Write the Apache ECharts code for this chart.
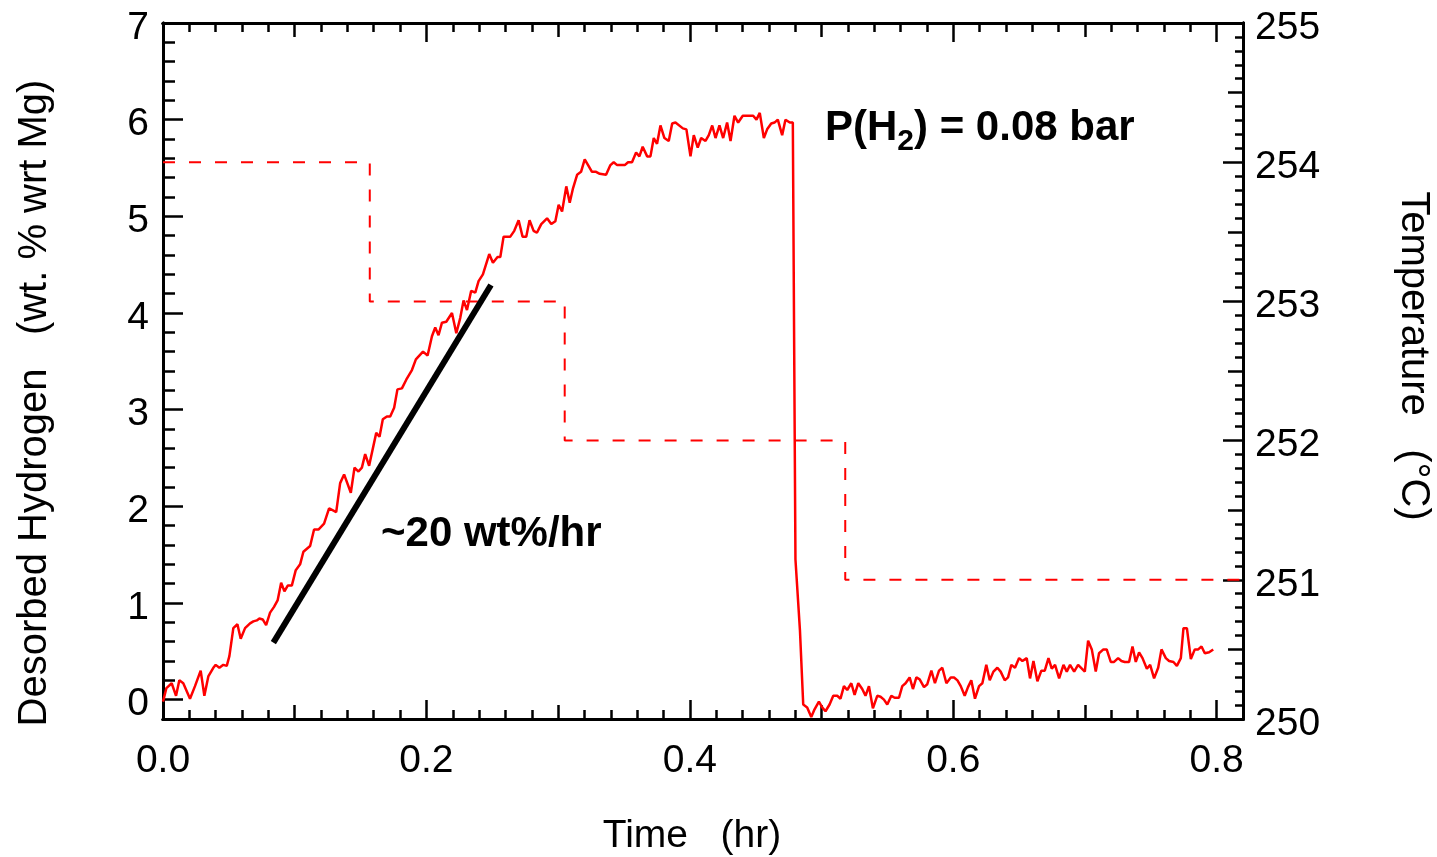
<!DOCTYPE html>
<html><head><meta charset="utf-8">
<script src="https://cdn.jsdelivr.net/npm/echarts@6/dist/echarts.min.js"></script>
<style>html,body{margin:0;padding:0;background:#fff}#c{width:1437px;height:857px}</style>
</head><body><div id="c"></div>
<script>
// ---- data ----
const timeHr = [
0.000,0.0026,0.0066,0.0099,0.0124,0.0154,0.0205,0.0243,0.0286,0.0314,0.0344,0.0382,0.0400,0.0428,0.0458,0.0484,0.0504,0.0534,0.0565,0.0590,
0.0623,0.0661,0.0686,0.0712,0.0732,0.0757,0.0783,0.0813,0.0843,0.0871,0.0897,0.0922,0.0947,0.0978,0.1008,0.1041,0.1066,0.1117,0.1147,0.1180,
0.1223,0.1261,0.1315,0.1345,0.1375,0.1426,0.1454,0.1484,0.1510,0.1535,0.1565,0.1619,0.1644,0.1669,0.1700,0.1725,0.1755,0.1780,0.1814,0.1847,
0.1890,0.1920,0.1974,0.2009,0.2042,0.2067,0.2092,0.2118,0.2151,0.2194,0.2227,0.2257,0.2282,0.2308,0.2340,0.2371,0.2396,0.2429,0.2477,0.2505,
0.2540,0.2561,0.2586,0.2637,0.2667,0.2700,0.2730,0.2758,0.2783,0.2814,0.2839,0.2872,0.2916,0.2948,0.2979,0.3004,0.3030,0.3062,0.3088,0.3113,
0.3144,0.3174,0.3202,0.3232,0.3257,0.3288,0.3316,0.3364,0.3397,0.3422,0.3448,0.3506,0.3531,0.3561,0.3592,0.3617,0.3642,0.3676,0.3701,0.3726,
0.3751,0.3777,0.3807,0.3840,0.3866,0.3891,0.3947,0.3974,0.4005,0.4030,0.4060,0.4086,0.4119,0.4144,0.4170,0.4195,0.4225,0.4253,0.4283,0.4309,
0.4339,0.4367,0.4402,0.4481,0.4506,0.4531,0.4562,0.4587,0.4618,0.4643,0.4668,0.4701,0.4726,0.4759,0.4782,0.4802,0.4836,0.4861,0.4891,0.4922,
0.4947,0.4980,0.5005,0.5030,0.5061,0.5089,0.5119,0.5144,0.5170,0.5195,0.5226,0.5251,0.5279,0.5309,0.5334,0.5360,0.5390,0.5423,0.5448,0.5474,
0.5499,0.5530,0.5555,0.5588,0.5613,0.5638,0.5669,0.5694,0.5720,0.5745,0.5778,0.5803,0.5834,0.5861,0.5892,0.5917,0.5948,0.5981,0.6006,0.6032,
0.6057,0.6087,0.6112,0.6137,0.6165,0.6196,0.6221,0.6251,0.6277,0.6305,0.6335,0.6360,0.6391,0.6416,0.6441,0.6469,0.6500,0.6525,0.6558,0.6583,
0.6609,0.6639,0.6669,0.6695,0.6723,0.6748,0.6773,0.6804,0.6837,0.6862,0.6887,0.6918,0.6948,0.6999,0.7024,0.7052,0.7082,0.7107,0.7140,0.7165,
0.7196,0.7221,0.7252,0.7277,0.7302,0.7335,0.7361,0.7386,0.7411,0.7437,0.7470,0.7495,0.7525,0.7556,0.7581,0.7614,0.7639,0.7672,0.7698,0.7728,
0.7748,0.7774,0.7804,0.7834,0.7860,0.7885,0.7910,0.7943,0.7974
];
const hydrogen = [
-0.02,0.12,0.17,0.04,0.20,0.17,0.01,0.14,0.30,0.04,0.24,0.33,0.36,0.33,0.36,0.35,0.45,0.74,0.78,0.63,
0.74,0.79,0.81,0.82,0.84,0.83,0.77,0.90,0.96,1.03,1.21,1.12,1.18,1.18,1.34,1.40,1.53,1.59,1.76,1.76,
1.82,1.98,1.94,2.24,2.33,2.14,2.40,2.36,2.40,2.54,2.42,2.76,2.72,2.90,2.93,2.93,3.02,3.21,3.22,3.31,
3.41,3.52,3.60,3.56,3.76,3.85,3.77,3.90,3.91,4.00,3.79,3.95,4.13,4.03,4.23,4.21,4.33,4.40,4.61,4.52,
4.58,4.58,4.79,4.79,4.85,4.96,4.79,4.79,4.96,4.85,4.83,4.92,4.98,4.92,4.95,5.12,5.05,5.31,5.14,5.29,
5.43,5.46,5.59,5.52,5.46,5.46,5.44,5.43,5.53,5.56,5.53,5.53,5.56,5.56,5.66,5.62,5.72,5.62,5.62,5.81,
5.75,5.94,5.81,5.78,5.96,5.97,5.91,5.90,5.62,5.84,5.71,5.81,5.78,5.84,5.94,5.81,5.94,5.81,5.97,5.78,
6.04,5.97,6.04,6.04,6.00,6.07,5.81,5.90,5.96,5.97,6.00,5.84,6.00,5.97,5.97,1.45,0.72,-0.05,-0.08,-0.18,
-0.10,-0.02,-0.08,-0.12,-0.05,0.04,0.04,0.01,0.14,0.10,0.17,0.05,0.17,0.11,0.04,0.14,-0.09,0.04,0.03,0.00,
-0.05,0.04,0.02,0.02,0.14,0.17,0.23,0.11,0.23,0.21,0.13,0.16,0.30,0.17,0.30,0.33,0.17,0.23,0.23,0.20,
0.14,0.04,0.13,0.20,0.01,0.14,0.17,0.36,0.20,0.29,0.33,0.29,0.20,0.23,0.36,0.33,0.43,0.40,0.43,0.22,
0.40,0.19,0.30,0.30,0.43,0.32,0.36,0.22,0.36,0.29,0.36,0.29,0.36,0.29,0.61,0.52,0.29,0.48,0.52,0.52,
0.39,0.39,0.43,0.40,0.39,0.39,0.55,0.39,0.49,0.43,0.32,0.36,0.22,0.33,0.52,0.43,0.40,0.39,0.35,0.43,
0.74,0.74,0.42,0.52,0.52,0.55,0.48,0.49,0.52
];
const tempTimes = [0, 0.157, 0.305, 0.518, 0.82];
const tempLevels = [254, 253, 252, 251, 251];
const fitTimes = [0.0838, 0.249];
const fitValues = [0.59, 4.29];
const xTickLabels = [0, 0.2, 0.4, 0.6, 0.8];
const yLeftTickLabels = [0, 1, 2, 3, 4, 5, 6, 7];
const yRightTickLabels = [250, 251, 252, 253, 254, 255];

// ---- chart ----
const FONT = '"Liberation Sans", Arial, Helvetica, sans-serif';
const zip = (a, b) => a.map((v, i) => [v, b[i]]);
const chart = echarts.init(document.getElementById('c'), null, {renderer: 'canvas'});

function axisBase(extra) {
  return Object.assign({
    type: 'value',
    axisLine: {show: true, onZero: false, lineStyle: {color: '#000', width: 3}},
    splitLine: {show: false},
    axisLabel: {show: false},
    axisTick: {show: true, inside: true, length: 9, lineStyle: {color: '#000', width: 2.5}}
  }, extra);
}
function tick(len, extra) {
  return Object.assign({show: true, inside: true, length: len, lineStyle: {color: '#000', width: 2.5}}, extra || {});
}
const xr = {min: 0, max: 0.82};
const yl = {min: -0.2, max: 7};
const yr = {min: 250, max: 255};

const xAxes = [
  axisBase(Object.assign({position: 'bottom', name: 'Time   (hr)', nameLocation: 'middle', nameGap: 98,
    nameTextStyle: {fontFamily: FONT, fontSize: 39, color: '#000', padding: [0, 22, 0, 0]},
    axisTick: tick(19, {customValues: xTickLabels}),
    axisLabel: {show: true, customValues: xTickLabels, formatter: v => v.toFixed(1), fontFamily: FONT, fontSize: 39, color: '#000', margin: 23}
  }, xr)),
  axisBase(Object.assign({position: 'bottom', interval: 0.1, axisTick: tick(14)}, xr)),
  axisBase(Object.assign({position: 'bottom', interval: 0.02, axisTick: tick(9)}, xr)),
  axisBase(Object.assign({position: 'top', axisTick: tick(19, {customValues: xTickLabels})}, xr)),
  axisBase(Object.assign({position: 'top', interval: 0.1, axisTick: tick(14)}, xr)),
  axisBase(Object.assign({position: 'top', interval: 0.02, axisTick: tick(9)}, xr))
];
const yAxes = [
  axisBase(Object.assign({position: 'left', name: 'Desorbed Hydrogen   (wt. % wrt Mg)', nameLocation: 'middle', nameGap: 108, nameRotate: 90,
    nameTextStyle: {fontFamily: FONT, fontSize: 40, color: '#000', padding: [0, 64, 0, 0]},
    axisTick: tick(20, {customValues: yLeftTickLabels}),
    axisLabel: {show: true, customValues: yLeftTickLabels, fontFamily: FONT, fontSize: 39, color: '#000', margin: 14,
      verticalAlign: 'top', lineHeight: 10}
  }, yl)),
  axisBase(Object.assign({position: 'left', interval: 0.2, axisTick: tick(12)}, yl)),
  axisBase(Object.assign({position: 'right', interval: 1, name: 'Temperature   (°C)', nameLocation: 'middle', nameGap: 150, nameRotate: -90,
    nameTextStyle: {fontFamily: FONT, fontSize: 40, color: '#000', padding: [0, 30, 0, 0]},
    axisTick: tick(20),
    axisLabel: {show: true, fontFamily: FONT, fontSize: 39, color: '#000', margin: 12,
      verticalAlign: 'top', lineHeight: 10}
  }, yr)),
  axisBase(Object.assign({position: 'right', interval: 0.5, axisTick: tick(15)}, yr)),
  axisBase(Object.assign({position: 'right', interval: 0.1, axisTick: tick(8)}, yr))
];

chart.setOption({
  animation: false,
  backgroundColor: '#fff',
  grid: {left: 163, right: 194, top: 23, bottom: 138, containLabel: false, outerBoundsMode: 'none'},
  xAxis: xAxes,
  yAxis: yAxes,
  series: [
    {type: 'line', name: 'Temperature', xAxisIndex: 0, yAxisIndex: 2, step: 'end', data: zip(tempTimes, tempLevels),
     showSymbol: false, lineStyle: {color: '#ff0000', width: 2, type: [12, 14]}, z: 2},
    {type: 'line', name: 'Desorbed hydrogen', xAxisIndex: 0, yAxisIndex: 0, data: zip(timeHr, hydrogen),
     showSymbol: false, lineStyle: {color: '#ff0000', width: 2.5}, z: 3},
    {type: 'line', name: 'Fit', xAxisIndex: 0, yAxisIndex: 0, data: zip(fitTimes, fitValues),
     showSymbol: false, lineStyle: {color: '#000', width: 6, cap: 'butt'}, z: 4}
  ],
  graphic: [
    {type: 'text', left: 825, top: 107, z: 10, style: {
      text: '{b|P(H}{s|2}{b|) = 0.08 bar}', fill: '#000',
      rich: {b: {fontFamily: FONT, fontWeight: 'bold', fontSize: 42, lineHeight: 58, fill: '#000'},
             s: {fontFamily: FONT, fontWeight: 'bold', fontSize: 30, verticalAlign: 'bottom', fill: '#000'}}}},
    {type: 'text', left: 381, top: 510, z: 10, style: {
      text: '~20 wt%/hr', fill: '#000', fontFamily: FONT, fontWeight: 'bold', fontSize: 42, lineHeight: 48}}
  ]
});
</script></body></html>
